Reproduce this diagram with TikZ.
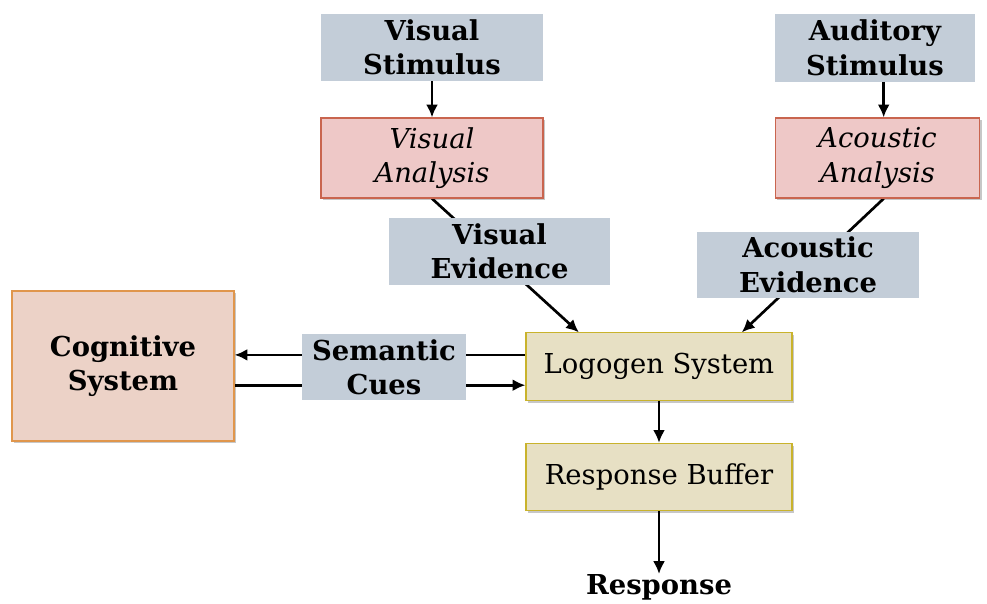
\documentclass[tikz,border=0pt]{standalone}
\usepackage{fontspec}
\setmainfont{DejaVu Serif}
\usetikzlibrary{arrows.meta, positioning, calc, shadows, backgrounds}
\definecolor{boxGray}{HTML}{C3CDD8}
\definecolor{boxPink}{HTML}{EEC8C7}
\definecolor{edgePink}{HTML}{C9654F}
\definecolor{boxPeach}{HTML}{ECD2C7}
\definecolor{edgePeach}{HTML}{E0964C}
\definecolor{boxSand}{HTML}{E7E0C4}
\definecolor{edgeSand}{HTML}{C9B32C}

\begin{document}
\begin{tikzpicture}[
    x=0.025cm, y=-0.025cm,
    every node/.style={align=center, inner sep=0pt,
                       font=\fontsize{19.5}{24.5}\selectfont},
    softshadow/.style={drop shadow={shadow xshift=0.05cm, shadow yshift=-0.06cm,
                       opacity=0.22, fill=black}},
    cue/.style={fill=boxGray, minimum width=5.55cm, minimum height=1.68cm,
                font=\fontsize{19.5}{24.5}\selectfont\bfseries},
    analysis/.style={draw=edgePink, fill=boxPink, line width=0.8pt, softshadow,
                     minimum width=5.55cm, minimum height=2cm,
                     font=\fontsize{19.5}{24.5}\selectfont\itshape},
    stage/.style={draw=edgeSand, fill=boxSand, line width=0.8pt, softshadow,
                  minimum width=6.65cm, minimum height=1.68cm},
    arrow/.style={-{Latex[length=3.2mm, width=3mm]}, line width=1.9pt},
]
\useasboundingbox (0,0) rectangle (987,604);

% Visual route
\node[cue] (vstim) at (432,47.5) {Visual\\Stimulus};
\node[analysis] (vana) at (432,158) {Visual\\Analysis};
\node[cue, minimum width=5.52cm] (vevid) at (499.5,251.5) {Visual\\Evidence};

% Auditory route
\node[cue, minimum width=5cm] (astim) at (875,48) {Auditory\\Stimulus};
\node[analysis, minimum width=5.12cm] (aana) at (877.5,158) {Acoustic\\Analysis};
\node[cue, minimum height=1.65cm] (aevid) at (808,265) {Acoustic\\Evidence};
\coordinate (acol) at ($(aana.south west)!0.53!(aana.south east)$);

% Word recognition
\node[draw=edgePeach, fill=boxPeach, line width=0.8pt, softshadow,
      minimum width=5.55cm, minimum height=3.75cm,
      font=\fontsize{19.5}{24.5}\selectfont\bfseries] (cog) at (123,366) {Cognitive\\System};
\node[cue, minimum width=4.1cm, minimum height=1.65cm] (sem) at (384,367) {Semantic\\Cues};
\node[stage] (logogen) at (659,366.5) {Logogen System};
\node[stage] (rbuf) at (659,477) {Response Buffer};
\node[font=\fontsize{19.5}{24.5}\selectfont\bfseries, anchor=north] (resp) at (659,574) {Response};

% Arrows
\draw[arrow] (vstim) -- (vana);
\draw[arrow] (acol |- astim.south) -- (acol |- aana.north);
\draw[arrow] (logogen) -- (rbuf);
\draw[arrow] (rbuf) -- (resp);
\begin{scope}[on background layer]
  \draw[arrow] (vana.south) -- ($(logogen.north west)!0.2!(logogen.north east)$);
  \draw[arrow] (acol) -- ($(logogen.north west)!0.81!(logogen.north east)$);
  \draw[arrow] ([yshift=0.29cm]logogen.west) -- ([yshift=0.29cm]logogen.west -| cog.east);
  \draw[arrow] ([yshift=-0.48cm]cog.east) -- ([yshift=-0.48cm]cog.east -| logogen.west);
\end{scope}
\end{tikzpicture}
\end{document}
